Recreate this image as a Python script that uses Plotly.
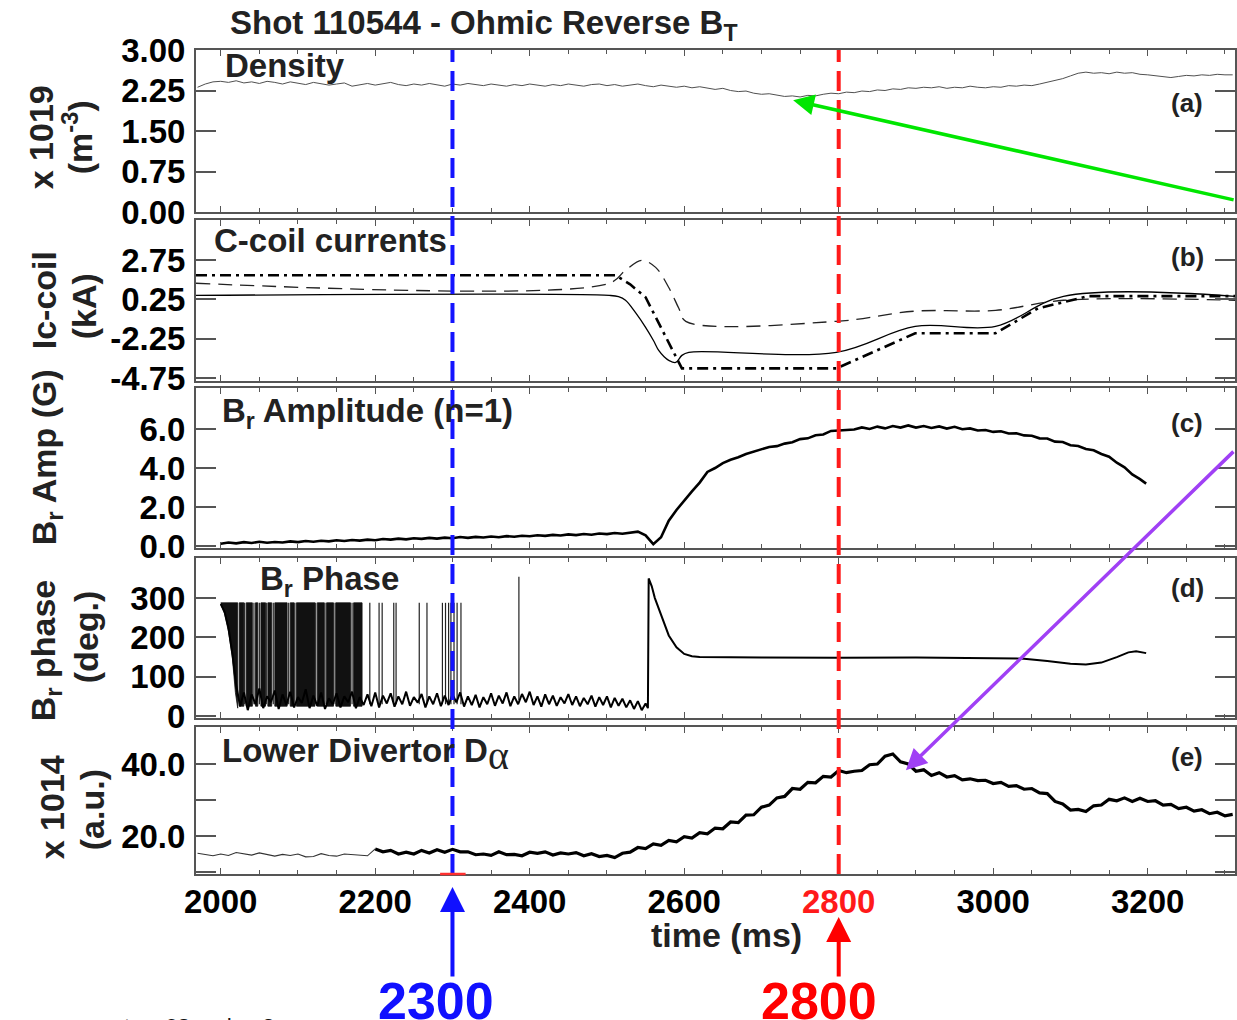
import plotly.graph_objects as go
from plotly.subplots import make_subplots

# ---------------- data ----------------
# (a) density, x10^19 m^-3, every 10 ms from 1970 ms
dens_t = list(range(1970, 3311, 10))
dens_v = [2.31, 2.37, 2.41, 2.42, 2.40, 2.43, 2.39, 2.41, 2.38, 2.42,
          2.40, 2.37, 2.41, 2.39, 2.36, 2.40, 2.38, 2.35, 2.37, 2.39,
          2.33, 2.36, 2.38, 2.35, 2.37, 2.40, 2.36, 2.34, 2.37, 2.35,
          2.38, 2.36, 2.33, 2.37, 2.35, 2.38, 2.36, 2.34, 2.37, 2.35,
          2.33, 2.36, 2.34, 2.37, 2.35, 2.33, 2.36, 2.34, 2.37, 2.35,
          2.33, 2.36, 2.37, 2.34, 2.36, 2.33, 2.35, 2.37, 2.34, 2.32,
          2.35, 2.33, 2.31, 2.33, 2.30, 2.32, 2.29, 2.27, 2.29, 2.25,
          2.23, 2.24, 2.20, 2.18, 2.19, 2.16, 2.14, 2.15, 2.13, 2.16,
          2.15, 2.18, 2.20, 2.19, 2.22, 2.21, 2.24, 2.23, 2.26, 2.25,
          2.28, 2.27, 2.30, 2.29, 2.31, 2.30, 2.32, 2.29, 2.31, 2.30,
          2.33, 2.31, 2.30, 2.32, 2.31, 2.34, 2.33, 2.35, 2.34, 2.37,
          2.40, 2.43, 2.47, 2.52, 2.57, 2.59, 2.57, 2.58, 2.56, 2.59,
          2.57, 2.58, 2.55, 2.54, 2.52, 2.50, 2.49, 2.51, 2.53, 2.52,
          2.54, 2.53, 2.55, 2.54, 2.54]

# (b) C-coil currents (kA)
coil_solid_t = [1968, 2503, 2515, 2524, 2537, 2550, 2560, 2567, 2574, 2580, 2589, 2597, 2606, 2797, 2899, 3003, 3091, 3313]
coil_solid_v = [0.50, 0.50, 0.42, 0.19, -0.60, -1.53, -2.35, -3.00, -3.40, -3.63, -3.76, -3.31, -3.12, -3.12, -1.47, -1.47, 0.44, 0.44]
coil_dash_t = [1968, 2503, 2524, 2545, 2563, 2580, 2593, 2602, 2797, 2899, 3003, 3091, 3313]
coil_dash_v = [1.27, 1.27, 2.10, 2.73, 2.28, 1.00, -0.32, -1.15, -1.15, -0.50, -0.45, 0.19, 0.19]
coil_dashdot_t = [1968, 2511, 2530, 2550, 2570, 2589, 2597, 2797, 2899, 3003, 3058, 3123, 3313]
coil_dashdot_v = [1.78, 1.78, 1.20, 0.38, -1.55, -3.44, -4.14, -4.14, -1.91, -1.91, -0.32, 0.45, 0.45]

# (c) Br amplitude n=1 (G), every 10 ms from 2000 ms, last point 3198
amp_t = list(range(2000, 3191, 10)) + [3198]
amp_v = [0.12, 0.18, 0.14, 0.20, 0.16, 0.22, 0.17, 0.21, 0.18, 0.24,
         0.20, 0.26, 0.22, 0.27, 0.24, 0.30, 0.26, 0.31, 0.28, 0.33,
         0.30, 0.36, 0.33, 0.38, 0.34, 0.40, 0.37, 0.42, 0.38, 0.43,
         0.40, 0.46, 0.42, 0.47, 0.44, 0.49, 0.45, 0.51, 0.48, 0.53,
         0.50, 0.55, 0.52, 0.57, 0.54, 0.60, 0.56, 0.62, 0.58, 0.64,
         0.61, 0.67, 0.63, 0.70, 0.74, 0.55, 0.10, 0.45, 1.30, 1.85,
         2.35, 2.80, 3.25, 3.80, 4.00, 4.25, 4.42, 4.55, 4.72, 4.85,
         4.95, 5.08, 5.12, 5.25, 5.32, 5.48, 5.52, 5.68, 5.72, 5.90,
         5.92, 5.93, 5.97, 6.08, 6.00, 6.12, 6.03, 6.15, 6.07, 6.18,
         6.07, 6.15, 6.05, 6.13, 6.02, 6.11, 5.99, 6.03, 5.92, 5.95,
         5.85, 5.88, 5.77, 5.78, 5.67, 5.65, 5.52, 5.51, 5.35, 5.33,
         5.17, 5.13, 4.97, 4.91, 4.72, 4.58, 4.27, 4.03, 3.67, 3.43,
         3.20]

# (d) Br phase (deg.)
phase_head_t = [2000, 2005, 2010, 2015, 2020]
phase_head_v = [285, 265, 225, 160, 80]
phase_base_t = list(range(2025, 2551, 5))
phase_base_v = [25, 60, 15, 55, 30, 70, 20, 50, 35, 65,
                18, 55, 28, 62, 22, 48, 33, 68, 20, 52,
                26, 60, 18, 45, 30, 58, 22, 50, 35, 62,
                20, 48, 28, 55, 25, 60, 22, 52, 32, 58,
                24, 50, 30, 62, 26, 48, 34, 56, 22, 50,
                30, 58, 25, 52, 28, 55, 35, 60, 24, 50,
                28, 54, 22, 48, 30, 58, 26, 52, 32, 60,
                25, 50, 30, 56, 35, 62, 28, 50, 24, 55,
                30, 52, 26, 48, 32, 56, 28, 50, 25, 46,
                30, 52, 24, 48, 28, 50, 22, 46, 26, 44,
                22, 40, 18, 38, 15, 32]
phase_tail_t = [2553, 2554, 2558, 2562, 2566, 2570, 2575, 2580, 2590, 2600, 2610, 2620,
                2700, 2800, 2900, 3000, 3040, 3070, 3100, 3120, 3140, 3160, 3175, 3185, 3198]
phase_tail_v = [20, 350, 330, 300, 280, 258, 230, 205, 175, 158, 152, 150,
                149, 148, 149, 148, 146, 140, 133, 131, 136, 150, 162, 165, 160]
# dense wrap-around region: outline of the first block, then solid bands
phase_wrap_top = 288
phase_block_t = [2000, 2022, 2022, 2019, 2015, 2010, 2005, 2000]
phase_block_v = [288, 288, 20, 60, 150, 215, 260, 285]
phase_band_start = [2024, 2033, 2045, 2052, 2061, 2070, 2090, 2098, 2125, 2137, 2149, 2172]
phase_band_end = [2030, 2041, 2048, 2058, 2066, 2086, 2095, 2122, 2134, 2146, 2168, 2183]
phase_spike_t = [2031, 2043, 2050, 2059, 2068, 2088, 2096, 2123, 2135, 2148, 2170,
                 2193, 2205, 2209, 2224, 2227, 2257, 2267, 2287, 2291, 2295, 2298,
                 2302, 2306, 2311]
phase_tall_spike_t = 2386
phase_tall_spike_v = 354

# (e) lower divertor D-alpha (x10^14 a.u.), every 10 ms from 1970 ms
da_t = list(range(1970, 3311, 10))
da_v = [15.2, 14.8, 14.5, 15.0, 14.6, 15.4, 15.1, 14.7, 15.3, 14.9,
        14.4, 14.9, 14.6, 15.0, 14.2, 14.3, 15.1, 14.6, 14.4, 15.0,
        14.8, 14.7, 14.5,
        16.4, 15.6, 16.0, 15.0, 15.5, 15.0, 16.0, 15.3, 16.2, 15.5,
        16.3, 15.6, 15.6, 14.8, 15.0, 14.6, 15.6, 14.8, 14.9, 14.5,
        15.5, 15.2, 15.6, 14.7, 15.3, 15.0, 15.4, 14.5, 15.1, 14.3,
        14.6, 14.0, 15.2, 15.5, 16.8, 16.5, 17.8, 17.4, 18.8, 18.4,
        19.8, 19.4, 20.9, 20.6, 22.2, 22.0, 23.9, 23.7, 25.8, 25.9,
        28.0, 28.6, 30.6, 31.0, 33.2, 33.0, 34.9, 34.8, 36.6, 36.4,
        38.2, 37.6, 38.0, 38.2, 39.8, 40.0, 42.2, 42.8, 40.6, 40.0,
        38.0, 38.4, 36.8, 37.6, 36.4, 36.8, 35.6, 35.9, 35.4, 35.5,
        34.6, 34.9, 33.8, 34.0, 33.0, 33.2, 32.0, 31.8, 29.6, 28.9,
        27.2, 27.4, 26.8, 28.4, 28.6, 30.2, 29.8, 30.6, 29.6, 30.5,
        29.6, 29.8, 28.6, 28.8, 27.6, 28.0, 26.9, 27.3, 26.2, 26.6,
        25.6, 26.0]
da_thick_from = 2200

# axis ticks
x_ticks = [2000, 2200, 2400, 2600, 2800, 3000, 3200]
x_ticktext = ["2000", "2200", "2400", "2600", '<span style="color:#ff1a1a">2800</span>', "3000", "3200"]
ya_ticks = [0.0, 0.75, 1.5, 2.25, 3.0]
yb_ticks = [-4.75, -2.25, 0.25, 2.75]
yc_ticks = [0.0, 2.0, 4.0, 6.0]
yd_ticks = [0, 100, 200, 300]
ye_ticks = [10, 20, 30, 40]
ye_ticktext = ["", "20.0", "", "40.0"]
mark_times = [2300, 2800]

# ---------------- figure ----------------
W, H = 1237, 1020
L, R, T, B = 196, 1237, 50, 874
FONT = "Liberation Sans, Arial, Helvetica, sans-serif"
AX = "#555555"


def px(x):
    return (x - L) / (R - L)


def py(y):
    return (B - y) / (B - T)


fig = make_subplots(rows=5, cols=1, shared_xaxes=True)
blk = "black"

fig.add_trace(go.Scatter(x=dens_t, y=dens_v, mode="lines", line=dict(color="#505050", width=1)), row=1, col=1)

fig.add_trace(go.Scatter(x=coil_solid_t, y=coil_solid_v, mode="lines", line=dict(color=blk, width=1.3), line_shape="spline"), row=2, col=1)
fig.add_trace(go.Scatter(x=coil_dash_t, y=coil_dash_v, mode="lines", line=dict(color="#222", width=1.3, dash="14px,8px"), line_shape="spline"), row=2, col=1)
fig.add_trace(go.Scatter(x=coil_dashdot_t, y=coil_dashdot_v, mode="lines", line=dict(color=blk, width=2.6, dash="11px,5px,3px,5px")), row=2, col=1)

fig.add_trace(go.Scatter(x=amp_t, y=amp_v, mode="lines", line=dict(color=blk, width=2.6)), row=3, col=1)

# phase: solid wrap-around blocks
bx, by = list(phase_block_t) + [None], list(phase_block_v) + [None]
for s, e in zip(phase_band_start, phase_band_end):
    bx += [s, s, e, e, s, None]
    by += [25, phase_wrap_top, phase_wrap_top, 25, 25, None]
fig.add_trace(go.Scatter(x=bx, y=by, mode="lines", fill="toself", fillcolor="#111",
                         line=dict(color="#111", width=0.8)), row=4, col=1)
sx, sy = [], []
for s in phase_spike_t:
    sx += [s, s, None]
    sy += [30, phase_wrap_top, None]
sx += [phase_tall_spike_t, phase_tall_spike_t, None]
sy += [40, phase_tall_spike_v, None]
fig.add_trace(go.Scatter(x=sx, y=sy, mode="lines", line=dict(color="#222", width=1.2)), row=4, col=1)
fig.add_trace(go.Scatter(x=phase_head_t + phase_base_t + phase_tail_t,
                         y=phase_head_v + phase_base_v + phase_tail_v,
                         mode="lines", line=dict(color=blk, width=2.0)), row=4, col=1)

i0 = da_t.index(da_thick_from)
fig.add_trace(go.Scatter(x=da_t[:i0 + 1], y=da_v[:i0 + 1], mode="lines", line=dict(color="#333", width=1.1)), row=5, col=1)
fig.add_trace(go.Scatter(x=da_t[i0:], y=da_v[i0:], mode="lines", line=dict(color=blk, width=3.2)), row=5, col=1)

# domains (pixels -> paper)
dom = [(50, 212), (220, 381), (388, 548), (558, 718), (727, 874)]
ranges = [[0, 3.0], [-4.94, 5.29], [-0.1, 8.1], [-5, 402], [9.44, 50.3]]
yticks = [ya_ticks, yb_ticks, yc_ticks, yd_ticks, ye_ticks]
ytext = [["%.2f" % v for v in ya_ticks], ["%.2f" % v for v in yb_ticks],
         ["%.1f" % v for v in yc_ticks], [str(v) for v in yd_ticks], ye_ticktext]

for i in range(5):
    n = "" if i == 0 else str(i + 1)
    fig.layout["yaxis" + n].update(
        domain=[py(dom[i][1]), py(dom[i][0])], range=ranges[i],
        tickvals=yticks[i], ticktext=ytext[i],
        ticks="inside", ticklen=20, tickwidth=1.6, tickcolor=AX,
        showline=True, linecolor=AX, linewidth=2, mirror="ticks",
        showgrid=False, zeroline=False, ticklabelstandoff=2,
        tickfont=dict(family=FONT, size=33, color="black", weight="bold"))
    fig.layout["xaxis" + n].update(
        range=[1968, 3313], tickvals=x_ticks, ticktext=x_ticktext,
        ticks="inside", ticklen=6, tickwidth=1.4, tickcolor=AX,
        minor=dict(dtick=50, tick0=2000, ticks="inside", ticklen=4, tickcolor=AX, tickwidth=1.2),
        showline=True, linecolor=AX, linewidth=2, mirror="ticks",
        showgrid=False, zeroline=False,
        showticklabels=(i == 4), ticklabelstandoff=-3,
        tickfont=dict(family=FONT, size=33, color="black", weight="bold"))

shapes = []
for t, c in zip(mark_times, ["#1414ff", "#ff1a1a"]):
    shapes.append(dict(type="line", xref="x", yref="paper", x0=t, x1=t, y0=0, y1=1,
                       line=dict(color=c, width=4, dash="20px,9px")))
shapes.append(dict(type="line", xref="x", yref="paper", x0=mark_times[0] - 16, x1=mark_times[0] + 17,
                   y0=0, y1=0, line=dict(color="#ff3030", width=2.5)))

ann = []
TXT = "#222222"


def text(s, x, y, size, xa="left", ya="middle", color=TXT, angle=0):
    ann.append(dict(text=s, x=px(x), y=py(y), xref="paper", yref="paper", showarrow=False,
                    xanchor=xa, yanchor=ya, textangle=angle,
                    font=dict(family=FONT, size=size, color=color)))


ALPHA = '<sub><span style="font-family:Liberation Serif;font-weight:normal;font-size:40px">α</span></sub>'
text("<b>Shot 110544 - Ohmic Reverse B<sub>T</sub></b>", 228, 25, 33)
text("<b>Density</b>", 223, 65, 33)
text("<b>C-coil currents</b>", 212, 241, 33)
text("<b>B<sub>r</sub> Amplitude (n=1)</b>", 220, 413, 33)
text("<b>B<sub>r</sub> Phase</b>", 258, 581, 33)
text("<b>Lower Divertor D</b>" + ALPHA, 220, 755, 33)
for lab, yy in zip(["(a)", "(b)", "(c)", "(d)", "(e)"], [103, 257, 423, 588, 757]):
    text("<b>%s</b>" % lab, 1189, yy, 26, xa="center")

# y axis titles (rotated)
text("<b>x 1019</b>", 41, 137, 34, xa="center", angle=-90)
text("<b>(m<sup>-3</sup>)</b>", 77, 137, 34, xa="center", angle=-90)
text("<b>Ic-coil</b>", 44, 300, 34, xa="center", angle=-90)
text("<b>(kA)</b>", 84, 306, 34, xa="center", angle=-90)
text("<b>B<sub>r</sub> Amp (G)</b>", 47, 457, 34, xa="center", angle=-90)
text("<b>B<sub>r</sub> phase</b>", 45, 650, 34, xa="center", angle=-90)
text("<b>(deg.)</b>", 86, 637, 34, xa="center", angle=-90)
text("<b>x 1014</b>", 52, 807, 34, xa="center", angle=-90)
text("<b>(a.u.)</b>", 92, 810, 34, xa="center", angle=-90)

text("<b>time (ms)</b>", 728, 935, 34, xa="center")
text("<b>2300</b>", 436, 1001, 52, xa="center", color="#1010ff")
text("<b>2800</b>", 820, 1001, 52, xa="center", color="#ff0000")
text("tes_<b>03</b>rcsdnp.3", 122, 1012, 22, ya="top", color="#111")

# arrows
ann.append(dict(x=mark_times[0], y=py(887), xref="x", yref="paper", ax=0, ay=978 - 887,
                text="", showarrow=True, arrowhead=2, arrowsize=1.25, arrowwidth=4,
                arrowcolor="#1010ff", standoff=0))
ann.append(dict(x=mark_times[1], y=py(917), xref="x", yref="paper", ax=0, ay=978 - 917,
                text="", showarrow=True, arrowhead=2, arrowsize=1.25, arrowwidth=4,
                arrowcolor="#ff0000", standoff=0))
ann.append(dict(x=2741, y=2.07, xref="x", yref="y", ax=442, ay=100,
                text="", showarrow=True, arrowhead=2, arrowsize=1.2, arrowwidth=3.5,
                arrowcolor="#00e600", standoff=0))
ann.append(dict(x=2887, y=38.3, xref="x", yref="y5", ax=329, ay=-320,
                text="", showarrow=True, arrowhead=2, arrowsize=1.2, arrowwidth=3.5,
                arrowcolor="#a040f5", standoff=0))

fig.update_layout(width=W, height=H, margin=dict(l=L, r=W - R, t=T, b=H - B),
                  plot_bgcolor="white", paper_bgcolor="white", showlegend=False,
                  hovermode=False, shapes=shapes, annotations=ann,
                  font=dict(family=FONT, color="black"))

fig.write_html("out.html", config={"displayModeBar": False},
               post_script="document.body.style.margin='0';document.body.style.overflow='hidden';")
